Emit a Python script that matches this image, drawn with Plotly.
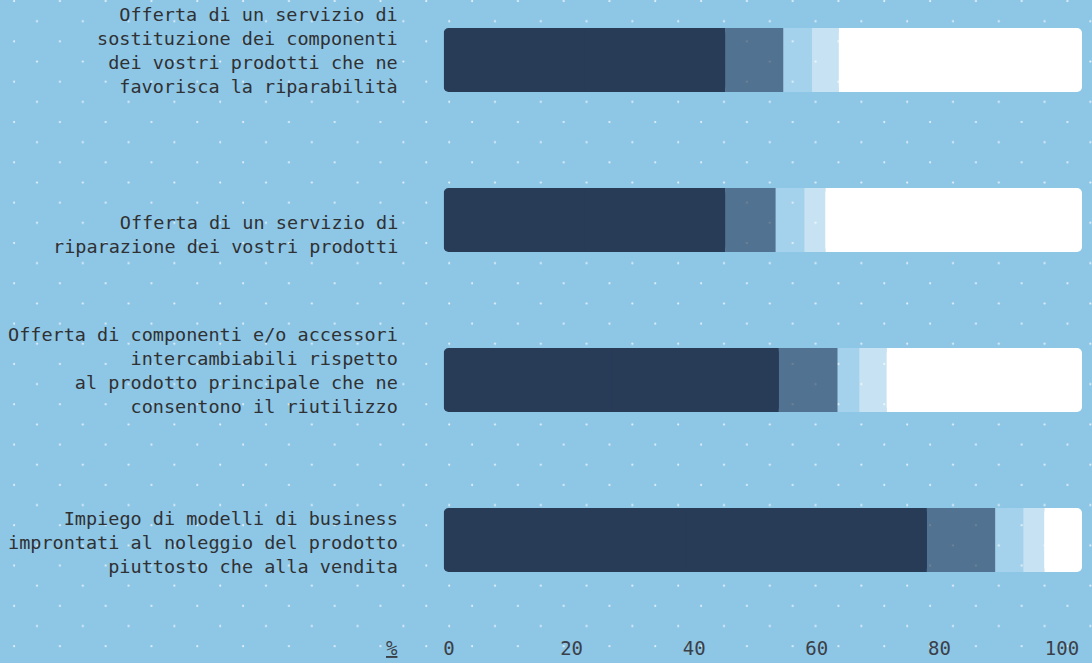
import base64
import numpy as np
import plotly.graph_objects as go

# Survey items (one horizontal bar each), top to bottom
categories = [
    "Offerta di un servizio di<br>sostituzione dei componenti<br>dei vostri prodotti che ne<br>favorisca la riparabilità",
    "Offerta di un servizio di<br>riparazione dei vostri prodotti",
    "Offerta di componenti e/o accessori<br>intercambiabili rispetto<br>al prodotto principale che ne<br>consentono il riutilizzo",
    "Impiego di modelli di business<br>improntati al noleggio del prodotto<br>piuttosto che alla vendita",
]

# Share of answers per segment (%), stacked left to right
seg_1 = [44.1, 44.1, 52.5, 75.7]
seg_2 = [9.1, 7.9, 9.2, 10.7]
seg_3 = [4.5, 4.5, 3.4, 4.4]
seg_4 = [4.2, 3.3, 4.3, 3.3]
seg_5 = [38.1, 40.2, 30.6, 5.9]

segment_names = ["Livello 1", "Livello 2", "Livello 3", "Livello 4", "Livello 5"]
segment_values = [seg_1, seg_2, seg_3, seg_4, seg_5]
segment_colors = [
    "#283B57",
    "rgba(40,59,87,0.6)",
    "rgba(255,255,255,0.2)",
    "rgba(255,255,255,0.5)",
    "#FFFFFF",
]

tick_values = [0, 20, 40, 60, 80, 100]
unit_label = "%"

W, H = 1092, 663
BG = "#8EC6E6"
TEXT = "#2F3133"
TICK_TEXT = "#3A4048"
FONT = "DejaVu Sans Mono"
RADIUS = 5
FLAT = 0.1  # practically square corners, same drawing path as the rounded ends

# Bar plotting area (pixels); rows chosen so bar edges fall on whole pixels
X0, X1 = 443.7, 1082.0
ROW0, ROW_STEP = 60.0, 160.0  # centre of the first row and row spacing

# Staggered dot texture for the background
DX, DY = 45.8, 20.16
dots_svg = (
    f'<svg xmlns="http://www.w3.org/2000/svg" width="{W}" height="{H}">'
    f'<defs><pattern id="d" x="0" y="0" width="{DX}" height="{2 * DY}" patternUnits="userSpaceOnUse">'
    f'<circle cx="14.1" cy="1.1" r="1.05" fill="#ffffff" fill-opacity="0.8"/>'
    f'<circle cx="{14.1 + DX / 2:.2f}" cy="{1.1 + DY:.2f}" r="1.05" fill="#ffffff" fill-opacity="0.8"/>'
    f'</pattern></defs><rect width="{W}" height="{H}" fill="url(#d)"/></svg>'
)
dots_src = "data:image/svg+xml;base64," + base64.b64encode(dots_svg.encode()).decode()

fig = go.Figure()

vals = np.array(segment_values, dtype=float)
starts = np.vstack([np.zeros(vals.shape[1]), np.cumsum(vals, axis=0)[:-1]])
n_seg = len(segment_names)


def add_segment(base, length, color, radius, name=None, value=None):
    fig.add_trace(
        go.Bar(
            y=categories,
            x=length,
            base=base,
            name=name or "",
            orientation="h",
            customdata=value,
            hovertemplate=("%{customdata:.1f}%<extra>" + name + "</extra>") if name else None,
            hoverinfo=None if name else "skip",
            marker=dict(color=color, line=dict(width=0), cornerradius=radius),
        )
    )


for i, (name, color) in enumerate(zip(segment_names, segment_colors)):
    v = vals[i]
    if i == 0:
        # rounded segment, then a square half over its inner end
        add_segment(starts[i] + v, -v, color, RADIUS, name, v)
        add_segment(starts[i] + v / 2, v / 2, color, FLAT)
    elif i == n_seg - 1:
        add_segment(starts[i], v, color, RADIUS, name, v)
        add_segment(starts[i], v / 2, color, FLAT)
    else:
        add_segment(starts[i], v, color, FLAT, name, v)

# empty trace to carry the tick axis
fig.add_trace(go.Scatter(x=[], y=[], xaxis="x2", yaxis="y", showlegend=False, hoverinfo="skip"))

y_top = (0 - ROW0) / ROW_STEP
y_bottom = (H - ROW0) / ROW_STEP

# tick axis: labels spread between 0 at px 449 and 100 at px 1062
px_per_unit = (1062 - 449) / 100
t_lo = -(449 - X0) / px_per_unit
t_hi = (X1 - 449) / px_per_unit

fig.update_layout(
    width=W,
    height=H,
    margin=dict(l=0, r=0, t=0, b=0),
    paper_bgcolor=BG,
    plot_bgcolor="rgba(0,0,0,0)",
    barmode="overlay",
    bargap=0.6,
    showlegend=False,
    font=dict(family=FONT, size=18.5, color=TEXT),
    xaxis=dict(
        domain=[X0 / W, X1 / W],
        range=[0, 100],
        visible=False,
        fixedrange=True,
    ),
    xaxis2=dict(
        domain=[X0 / W, X1 / W],
        overlaying="x",
        anchor="free",
        position=28 / H,
        side="bottom",
        range=[t_lo, t_hi],
        tickmode="array",
        tickvals=tick_values,
        ticktext=[str(v) for v in tick_values],
        showgrid=False,
        zeroline=False,
        showline=False,
        ticks="",
        tickfont=dict(family=FONT, size=19, color=TICK_TEXT),
        fixedrange=True,
    ),
    yaxis=dict(
        domain=[0, 1],
        type="category",
        categoryorder="array",
        categoryarray=categories,
        range=[y_bottom, y_top],
        showticklabels=False,
        showgrid=False,
        zeroline=False,
        showline=False,
        fixedrange=True,
    ),
    images=[
        dict(
            source=dots_src,
            xref="paper",
            yref="paper",
            x=0,
            y=1,
            sizex=1,
            sizey=1,
            xanchor="left",
            yanchor="top",
            sizing="stretch",
            layer="below",
        )
    ],
)

# category labels, right aligned and sitting on the bottom edge of each bar
for cat in categories:
    fig.add_annotation(
        text=cat,
        xref="paper",
        yref="y",
        x=X0 / W,
        y=cat,
        xanchor="right",
        yanchor="bottom",
        align="right",
        xshift=-44,
        yshift=-39,
        showarrow=False,
        font=dict(family=FONT, size=18.5, color=TEXT),
    )

# unit marker left of the scale
fig.add_annotation(
    text=f"<u>{unit_label}</u>",
    xref="paper",
    yref="paper",
    x=X0 / W,
    y=(H - 648) / H,
    xanchor="right",
    yanchor="middle",
    xshift=-44,
    showarrow=False,
    font=dict(family=FONT, size=19, color=TICK_TEXT),
)

fig.write_html("out.html")
